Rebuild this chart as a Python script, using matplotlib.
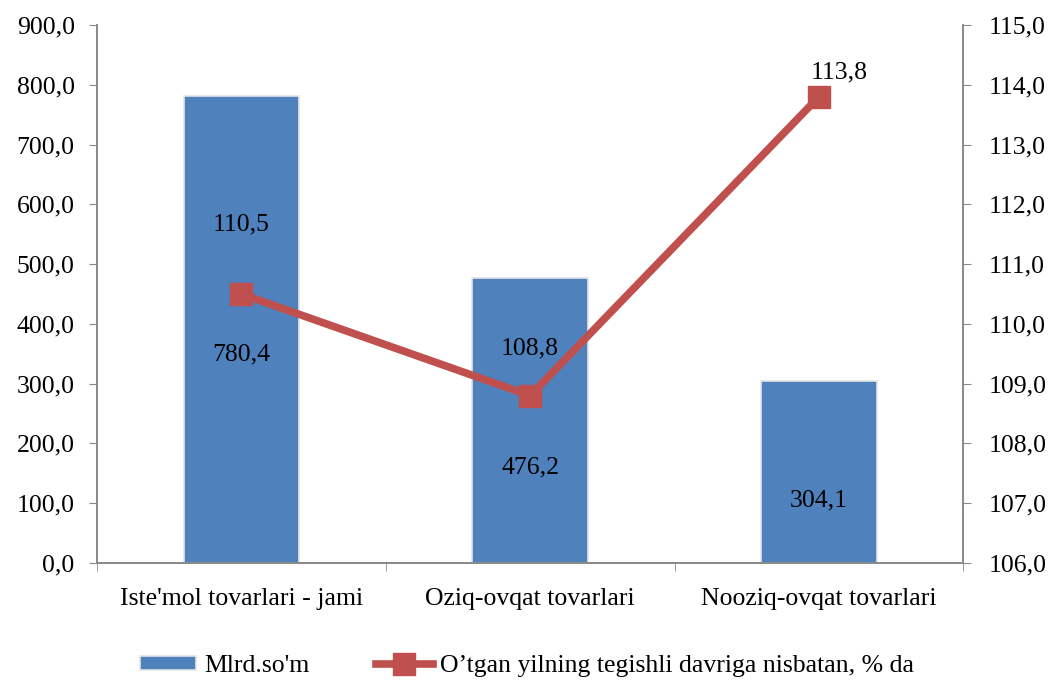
import matplotlib
matplotlib.use("Agg")
from matplotlib import pyplot as plt
from matplotlib.ticker import FuncFormatter, MultipleLocator, FixedLocator

categories = ["Iste'mol tovarlari - jami", "Oziq-ovqat tovarlari", "Nooziq-ovqat tovarlari"]
mlrd_som = [780.4, 476.2, 304.1]
foiz = [110.5, 108.8, 113.8]

bar_name = "Mlrd.so'm"
line_name = "O’tgan yilning tegishli davriga nisbatan, % da"

blue = "#4F81BD"
red = "#C0504D"
grey = "#888888"

plt.rcParams['font.family'] = ['Liberation Serif', 'DejaVu Serif']
plt.rcParams['font.size'] = 18.5

def comma(v, pos):
    return f"{v:.1f}".replace(".", ",")

fig = plt.figure(figsize=(10.54, 6.83), dpi=100)
ax = fig.add_axes([0.092, 0.1757, 0.822, 0.7877])
ax2 = ax.twinx()

x = list(range(len(categories)))
bars = ax.bar(x, mlrd_som, width=0.4, color=blue, edgecolor="#e4e4e4", linewidth=1.2, label=bar_name, zorder=2)
ax.set_xlim(-0.5, 2.5)
ax.set_ylim(0, 900)
ax.yaxis.set_major_locator(MultipleLocator(100))
ax.yaxis.set_major_formatter(FuncFormatter(comma))
ax.set_xticks(x)
ax.set_xticklabels(categories)
ax.xaxis.set_minor_locator(FixedLocator([-0.5, 0.5, 1.5, 2.5]))
ax.tick_params(axis="x", which="major", length=0, pad=18)
ax.tick_params(axis="x", which="minor", length=6, color=grey)
ax.tick_params(axis="y", length=6, color=grey, pad=10)

# подписи значений внутри столбцов
bar_label_pos = [0.446, 0.337, 0.345]
for xi, v, f in zip(x, mlrd_som, bar_label_pos):
    ax.text(xi, v * f, comma(v, None), ha="center", va="center")

ax2.plot(x, foiz, color=red, lw=5.5, marker="s", markersize=16, label=line_name, zorder=3)
ax2.set_ylim(106, 115)
ax2.yaxis.set_major_locator(MultipleLocator(1))
ax2.yaxis.set_major_formatter(FuncFormatter(comma))
ax2.tick_params(axis="y", length=6, color=grey, pad=12)

line_offsets = [(0, 70), (0, 47), (20, 24)]
for xi, v, off in zip(x, foiz, line_offsets):
    ax2.annotate(comma(v, None), (xi, v), xytext=off, textcoords="offset pixels",
                 ha="center", va="center")

for a in (ax, ax2):
    a.spines["top"].set_visible(False)
    for s in ("left", "right", "bottom"):
        a.spines[s].set_color(grey)
        a.spines[s].set_linewidth(1.2)

h1, l1 = ax.get_legend_handles_labels()
h2, l2 = ax2.get_legend_handles_labels()
fig.legend(h1 + h2, l1 + l2, loc="lower center", bbox_to_anchor=(0.5, -0.025), ncol=2,
           frameon=False, handlelength=2.2, handleheight=0.5, handletextpad=0.3, columnspacing=2.6)

fig.savefig("out.png", dpi=100)
